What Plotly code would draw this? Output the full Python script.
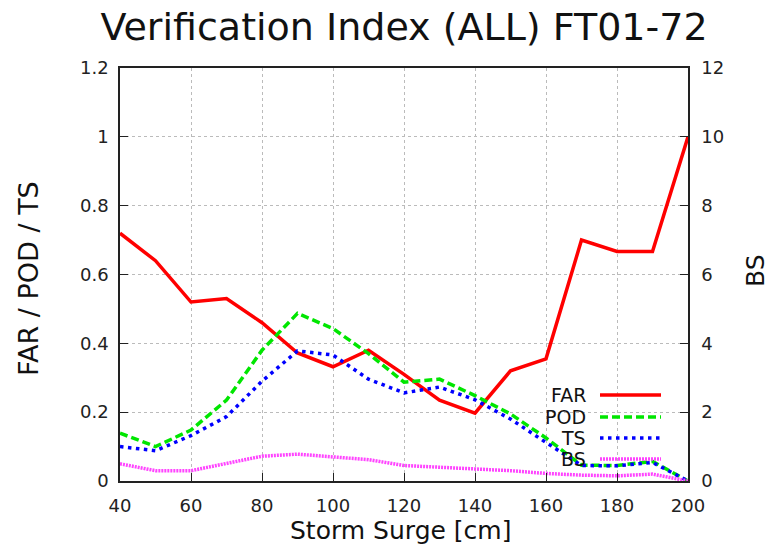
import plotly.graph_objects as go

# ---- data ----
surge_cm = [40, 50, 60, 70, 80, 90, 100, 110, 120, 130, 140, 150, 160, 170, 180, 190, 200]
far = [0.72, 0.64, 0.52, 0.53, 0.46, 0.372, 0.332, 0.38, 0.31, 0.235, 0.197, 0.32, 0.355, 0.70, 0.667, 0.667, 1.0]
pod = [0.139, 0.10, 0.148, 0.235, 0.38, 0.487, 0.443, 0.37, 0.287, 0.296, 0.248, 0.195, 0.125, 0.046, 0.045, 0.057, 0.0]
ts = [0.10, 0.088, 0.132, 0.187, 0.29, 0.378, 0.366, 0.296, 0.256, 0.273, 0.236, 0.18, 0.112, 0.045, 0.044, 0.054, 0.0]
bs = [0.5, 0.3, 0.3, 0.5, 0.72, 0.78, 0.7, 0.62, 0.45, 0.4, 0.35, 0.3, 0.22, 0.17, 0.15, 0.2, 0.0]

x_ticks = [40, 60, 80, 100, 120, 140, 160, 180, 200]
y_ticks = [0, 0.2, 0.4, 0.6, 0.8, 1.0, 1.2]
y2_ticks = [0, 2, 4, 6, 8, 10, 12]

series = [
    ("FAR", far, "#ff0000", "solid", 3.5, "y"),
    ("POD", pod, "#00e600", "8px,4px", 3.5, "y"),
    ("TS", ts, "#0000ff", "3.5px,4.5px", 3.5, "y"),
    ("BS", bs, "#ff44ff", "2px,1px", 3.5, "y2"),
]

FONT = "DejaVu Sans"
W, H = 771, 548
L, R, T, B = 120, 83, 68, 67
pw, ph = W - L - R, H - T - B

def px(xp):
    return (xp - L) / pw

def py(yp):
    return (H - B - yp) / ph

fig = go.Figure()
for name, vals, color, dash, width, yax in series:
    fig.add_trace(go.Scatter(
        x=surge_cm, y=vals, name=name, mode="lines", yaxis=yax,
        line=dict(color=color, dash=dash, width=width), showlegend=False,
    ))

axis_common = dict(
    showline=True, linecolor="#222", linewidth=1.5, mirror=True,
    ticks="inside", ticklen=8, tickcolor="#222", tickwidth=1.2,
    tickfont=dict(family=FONT, size=18, color="#222"),
    zeroline=False,
)

fig.update_layout(
    width=W, height=H,
    margin=dict(l=L, r=R, t=T, b=B),
    paper_bgcolor="white", plot_bgcolor="white",
    title=dict(text="Verification Index (ALL) FT01-72", x=0.5, xref="paper",
               y=1 - 27 / H, yref="container", yanchor="middle", xanchor="center",
               font=dict(family=FONT, size=38, color="#111")),
    xaxis=dict(range=[40, 200], tickvals=x_ticks, showgrid=True,
               gridcolor="#bbbbbb", griddash="dot", gridwidth=1,
               ticklabelstandoff=8, **axis_common),
    yaxis=dict(range=[0, 1.2], tickvals=y_ticks, showgrid=True,
               gridcolor="#bbbbbb", griddash="dot", gridwidth=1,
               ticklabelstandoff=6, **axis_common),
    yaxis2=dict(range=[0, 12], tickvals=y2_ticks, overlaying="y", side="right",
                showgrid=False, ticklabelstandoff=8, **axis_common),
)

annotations = [
    dict(text="FAR / POD / TS", x=px(28), y=py(279), textangle=-90,
         font=dict(family=FONT, size=27, color="#111")),
    dict(text="BS", x=px(755), y=py(271), textangle=-90,
         font=dict(family=FONT, size=25, color="#111")),
    dict(text="Storm Surge [cm]", x=px(400), y=py(530),
         font=dict(family=FONT, size=25, color="#111")),
]
for a in annotations:
    a.update(xref="paper", yref="paper", showarrow=False, xanchor="center", yanchor="middle")

shapes = [
    # key area background (hides the grid, like gnuplot's key box)
    dict(type="rect", xref="paper", yref="paper", x0=px(542), x1=px(670),
         y0=py(475), y1=py(383), fillcolor="white", line=dict(width=0), layer="between"),
]
key_y = [395, 417, 438, 459]
for (name, vals, color, dash, width, yax), ky in zip(series, key_y):
    annotations.append(dict(text=name, x=px(588), y=py(ky), xref="paper", yref="paper",
                            showarrow=False, xanchor="right", yanchor="middle",
                            font=dict(family=FONT, size=19, color="#111")))
    shapes.append(dict(type="line", xref="paper", yref="paper", x0=px(600), x1=px(661),
                       y0=py(ky), y1=py(ky), line=dict(color=color, dash=dash, width=width)))

fig.update_layout(annotations=annotations, shapes=shapes)
fig.write_html("out.html", config={"displayModeBar": False},
               post_script="document.body.style.margin='0';document.body.style.padding='0';")
